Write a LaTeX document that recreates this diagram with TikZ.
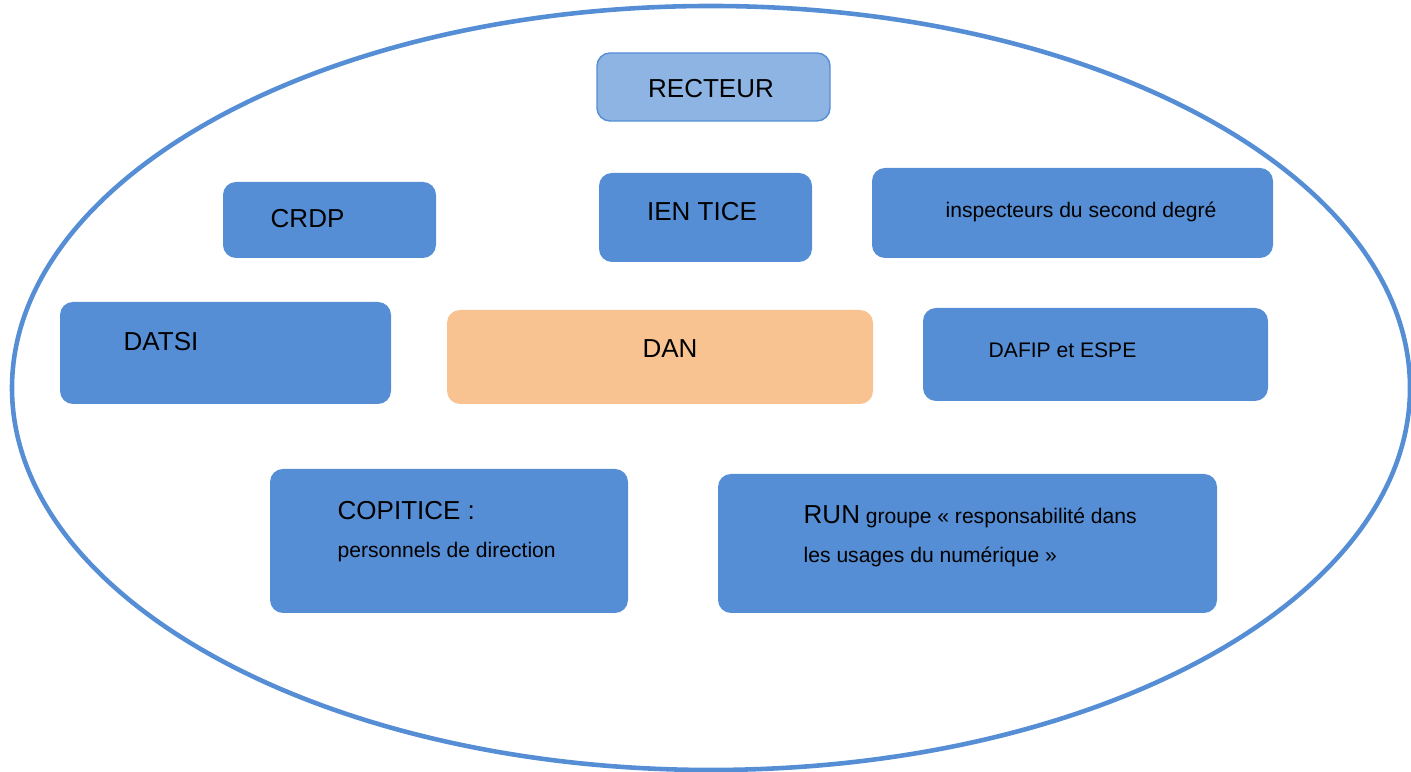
\documentclass[tikz,border=0pt]{standalone}
\usepackage{fontspec}
\setmainfont{Liberation Sans}
\usepackage{tikz}
\definecolor{boxblue}{HTML}{558ED5}
\definecolor{lightblue}{HTML}{8EB4E3}
\definecolor{danorange}{HTML}{F8C291}
\tikzset{
	box/.style={draw=none, fill=boxblue, rounded corners=0.13cm, inner sep=0pt},
	big/.style={font=\fontsize{7.4}{9}\selectfont, inner sep=0pt},
	small/.style={font=\fontsize{6}{7}\selectfont, inner sep=0pt}
}

\begin{document}
\begin{tikzpicture}
				%%%%% START %%%%%
				\useasboundingbox (0, 0) rectangle (14.11, 7.72);
				
				\draw[boxblue, line width=1.3pt] (7.11, 3.84) ellipse (6.99 and 3.82);
				
				\node[box, fill=lightblue, draw=boxblue, line width=0.4pt, minimum width=2.33cm, minimum height=0.68cm] (recteur) at (7.135, 6.85) {};
				\node[big] (recteurtxt) at (7.11, 6.83) {RECTEUR};
				
				\node[box, minimum width=2.13cm, minimum height=0.76cm] (crdp) at (3.295, 5.52) {};
				\node[big, anchor=west] (crdptxt) at (2.70, 5.53) {CRDP};
				
				\node[box, minimum width=2.13cm, minimum height=0.89cm] (ientice) at (7.055, 5.545) {};
				\node[big] (ientxt) at (7.02, 5.60) {IEN TICE};
				
				\node[box, minimum width=4.01cm, minimum height=0.90cm] (inspect) at (10.725, 5.59) {};
				\node[small] (inspecttxt) at (10.81, 5.60) {inspecteurs du second degré};
				
				\node[box, minimum width=3.31cm, minimum height=1.02cm] (datsi) at (2.255, 4.19) {};
				\node[big, anchor=west] (datsitxt) at (1.23, 4.30) {DATSI};
				
				\node[box, fill=danorange, minimum width=4.26cm, minimum height=0.94cm] (dan) at (6.60, 4.15) {};
				\node[big] (dantxt) at (6.70, 4.23) {DAN};
				
				\node[box, minimum width=3.45cm, minimum height=0.93cm] (dafip) at (10.955, 4.175) {};
				\node[small, anchor=west] (dafiptxt) at (9.88, 4.22) {DAFIP et ESPE};
				
				\node[box, minimum width=3.58cm, minimum height=1.44cm] (copitice) at (4.49, 2.31) {};
				\node[big, anchor=west] (copitxt) at (3.37, 2.61) {COPITICE :};
				\node[small, anchor=west] (persotxt) at (3.37, 2.20) {personnels de direction};
				
				\node[box, minimum width=4.99cm, minimum height=1.39cm] (run) at (9.675, 2.285) {};
				\node[small, anchor=base west] (runtxt) at (8.03, 2.48) {{\fontsize{7.4}{9}\selectfont RUN} groupe « responsabilité dans};
				\node[small, anchor=west] (usagestxt) at (8.03, 2.15) {les usages du numérique »};
				%%%%% END %%%%%
\end{tikzpicture}
\end{document}
